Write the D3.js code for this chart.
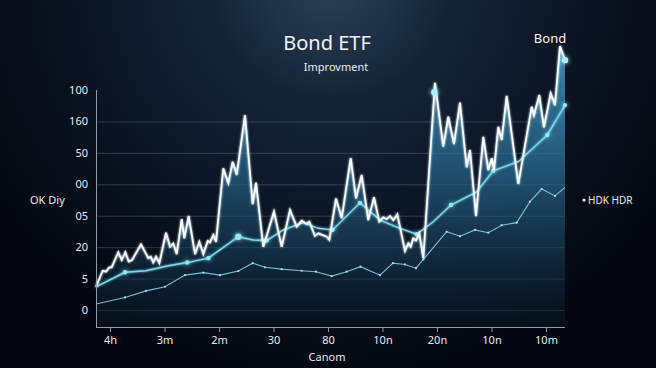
<!DOCTYPE html>
<html><head><meta charset="utf-8">
<script src="https://cdn.jsdelivr.net/npm/d3@7"></script>
<style>html,body{margin:0;padding:0;background:#060a14;overflow:hidden}svg{display:block}</style>
</head><body>
<script>
// ---- data ----
const xTickLabels = ["4h","3m","2m","30","80","10n","20n","10n","10m"];
const yTickLabels = ["0","5","20","05","00","50","160","100"];
const bondX = [-0.257,-0.134,-0.073,-0.013,0.031,0.152,0.215,0.281,0.343,0.404,0.569,0.703,0.747,0.794,0.844,0.905,1.028,1.101,1.161,1.224,1.316,1.363,1.444,1.560,1.639,1.712,1.793,1.835,1.895,1.945,2.079,2.171,2.251,2.325,2.477,2.618,2.679,2.813,3.009,3.150,3.303,3.426,3.517,3.609,3.657,3.761,3.822,3.976,4.024,4.147,4.251,4.417,4.514,4.618,4.739,4.844,4.941,5.015,5.077,5.138,5.198,5.272,5.413,5.473,5.517,5.565,5.615,5.675,5.749,5.952,5.963,6.116,6.207,6.312,6.422,6.545,6.606,6.716,6.850,6.941,7.004,7.046,7.125,7.187,7.279,7.492,7.738,7.780,7.877,7.963,8.086,8.165,8.257,8.349];
const bondY = [7.4,12.5,12.2,13.6,13.6,18.4,15.9,18.4,15.4,15.9,20.9,16.5,17.0,15.1,17.0,14.9,24.6,20.1,21.2,17.8,28.9,22.8,29.9,17.8,21.7,17.8,22.0,21.5,23.9,21.7,45.1,40.3,47.2,43.0,62.0,33.7,40.5,20.1,31.3,20.1,31.8,26.5,28.4,27.4,28.1,23.6,24.4,23.3,22.3,35.5,29.2,48.3,35.5,43.0,28.6,35.9,28.1,29.5,28.9,29.9,28.6,30.5,18.8,21.2,20.1,22.8,22.1,24.4,16.5,69.3,72.3,52.0,61.5,52.8,66.0,45.4,50.9,29.9,55.1,44.5,48.3,44.5,58.3,54.1,68.1,40.1,64.7,62.0,68.4,58.1,69.0,65.2,84.0,79.5];
const bondMarkerIdx = [69, 93];
const trendX = [-0.257,0.275,0.661,1.070,1.418,1.804,2.354,2.629,2.875,3.180,3.547,3.822,4.086,4.587,4.954,5.321,5.628,5.932,6.257,6.728,7.033,7.492,8.024,8.349];
const trendY = [7.4,12.0,12.5,14.1,15.1,16.5,23.3,22.3,22.1,25.5,27.8,26.0,25.5,34.1,28.6,26.0,24.1,28.1,33.4,37.6,44.3,47.2,55.7,65.2];
const trendMarkerIdx = [1,4,5,6,8,12,13,16,18,20,22,23];
const lowX = [-0.257,0.275,0.661,1.009,1.376,1.712,2.018,2.354,2.618,2.844,3.150,3.517,3.780,4.068,4.343,4.596,4.954,5.193,5.413,5.615,5.749,6.178,6.422,6.697,6.941,7.187,7.462,7.706,7.921,8.165,8.349];
const lowY = [1.9,4.0,6.1,7.4,11.1,11.9,11.1,12.4,14.9,13.6,13.0,12.5,12.2,10.8,12.2,13.8,11.1,14.9,14.5,13.3,16.1,24.9,23.5,25.5,24.6,27.0,27.8,34.5,38.5,36.3,39.0];
const bond = bondX.map((x,i)=>({x, y:bondY[i]}));
const trend = trendX.map((x,i)=>({x, y:trendY[i]}));
const low = lowX.map((x,i)=>({x, y:lowY[i]}));

// ---- layout ----
const W = 656, H = 368;
const m = {left:96, right:91, top:90, bottom:41};
const x = d3.scaleLinear().domain([-0.257, 8.349]).range([m.left, W - m.right]);
const y = d3.scaleLinear().domain([-5.4, 70]).range([H - m.bottom, m.top]);
const FONT = "'Noto Sans','Open Sans',sans-serif";

const svg = d3.select("body").append("svg").attr("width", W).attr("height", H);
const defs = svg.append("defs");

const bg = defs.append("radialGradient").attr("id","bg").attr("gradientUnits","userSpaceOnUse")
  .attr("cx",330).attr("cy",-20).attr("r",400);
bg.append("stop").attr("offset","0").attr("stop-color","#2c4258");
bg.append("stop").attr("offset","0.3").attr("stop-color","#142438");
bg.append("stop").attr("offset","0.65").attr("stop-color","#0a1322");
bg.append("stop").attr("offset","1").attr("stop-color","#04070f");

const fillG = defs.append("linearGradient").attr("id","fillG").attr("gradientUnits","userSpaceOnUse")
  .attr("x1",0).attr("y1",50).attr("x2",0).attr("y2",H - m.bottom);
fillG.append("stop").attr("offset","0").attr("stop-color","#4aa6d4").attr("stop-opacity",0.8);
fillG.append("stop").attr("offset","0.45").attr("stop-color","#286a90").attr("stop-opacity",0.65);
fillG.append("stop").attr("offset","1").attr("stop-color","#0a1828").attr("stop-opacity",0.35);

const fillT = defs.append("linearGradient").attr("id","fillT").attr("gradientUnits","userSpaceOnUse")
  .attr("x1",0).attr("y1",100).attr("x2",0).attr("y2",H - m.bottom);
fillT.append("stop").attr("offset","0").attr("stop-color","#3c8fbc").attr("stop-opacity",0.3);
fillT.append("stop").attr("offset","1").attr("stop-color","#0c1c2e").attr("stop-opacity",0.05);

const glow = defs.append("filter").attr("id","glow").attr("x","-200%").attr("y","-200%").attr("width","500%").attr("height","500%");
glow.append("feGaussianBlur").attr("stdDeviation",2.5).attr("result","b");
const mg = glow.append("feMerge");
mg.append("feMergeNode").attr("in","b");
mg.append("feMergeNode").attr("in","SourceGraphic");

const soft = defs.append("filter").attr("id","soft").attr("x","-10%").attr("y","-10%").attr("width","120%").attr("height","120%");
soft.append("feGaussianBlur").attr("stdDeviation",1.2).attr("result","b");
const ms = soft.append("feMerge");
ms.append("feMergeNode").attr("in","b");
ms.append("feMergeNode").attr("in","SourceGraphic");

svg.append("rect").attr("width",W).attr("height",H).attr("fill","url(#bg)");

// gridlines
const gridVals = d3.range(0, 70, 10);
svg.append("g").selectAll("line").data(gridVals).join("line")
  .attr("x1", x.range()[0]).attr("x2", x.range()[1])
  .attr("y1", d=>y(d)+0.5).attr("y2", d=>y(d)+0.5)
  .attr("stroke","#8ea3b8").attr("stroke-opacity",0.3).attr("stroke-width",1);

// areas
const area = d3.area().x(d=>x(d.x)).y0(y(-5.4)).y1(d=>y(d.y));
svg.append("path").datum(bond).attr("d", area).attr("fill","url(#fillG)");
svg.append("path").datum(trend).attr("d", area).attr("fill","url(#fillT)");

const line = d3.line().x(d=>x(d.x)).y(d=>y(d.y));
// low line
svg.append("path").datum(low).attr("d", line).attr("fill","none")
  .attr("stroke","#86cde3").attr("stroke-width",1.1).attr("opacity",0.9);
svg.append("g").selectAll("circle").data(low.slice(1,-1)).join("circle")
  .attr("cx",d=>x(d.x)).attr("cy",d=>y(d.y)).attr("r",1.1).attr("fill","#a6dff0");
// trend line
svg.append("path").datum(trend).attr("d", line).attr("fill","none")
  .attr("stroke","#78dcef").attr("stroke-width",1.4).attr("filter","url(#soft)");
svg.append("g").selectAll("circle").data(trendMarkerIdx.map(i=>trend[i])).join("circle")
  .attr("cx",d=>x(d.x)).attr("cy",d=>y(d.y)).attr("r",(d,i)=> (i===3?3.2:2.2))
  .attr("fill","#8eeaf8").attr("filter","url(#glow)");
// bond line
svg.append("path").datum(bond).attr("d", line).attr("fill","none")
  .attr("stroke","#f4fbff").attr("stroke-width",1.8).attr("stroke-linejoin","miter").attr("filter","url(#soft)");
svg.append("g").selectAll("circle").data(bondMarkerIdx.map(i=>bond[i])).join("circle")
  .attr("cx",d=>x(d.x)).attr("cy",d=>y(d.y)).attr("r",3.2)
  .attr("fill","#a8f2ff").attr("filter","url(#glow)");

// axes
const yAxis = d3.axisLeft(y).tickValues(d3.range(0, 71, 10)).tickSize(0).tickPadding(8)
  .tickFormat((d,i)=>yTickLabels[i]);
const gy = svg.append("g").attr("transform",`translate(${m.left},0)`).call(yAxis);
gy.select(".domain").remove();
gy.append("line").attr("x1",0.5).attr("x2",0.5).attr("y1",y(70)).attr("y2",y(-5.4))
  .attr("stroke","#8e9cac").attr("stroke-width",1);
gy.selectAll("text").attr("fill","#e6ecf2").style("font-family",FONT).style("font-size","11px");

const xAxis = d3.axisBottom(x).tickValues(d3.range(0, 9)).tickSize(5).tickPadding(4)
  .tickFormat((d,i)=>xTickLabels[i]);
const gx = svg.append("g").attr("transform",`translate(0,${y(-5.4)})`).call(xAxis);
gx.select(".domain").attr("stroke","#8e9cac").attr("d",`M${x.range()[0]},0.5H${x.range()[1]}`);
gx.selectAll(".tick line").attr("stroke","#8e9cac");
gx.selectAll("text").attr("fill","#e6ecf2").style("font-family",FONT).style("font-size","11px");

// texts
svg.append("text").attr("x",327).attr("y",50).attr("text-anchor","middle")
  .attr("fill","#f2f6fa").style("font-family",FONT).style("font-size","20px").text("Bond ETF");
svg.append("text").attr("x",336).attr("y",71).attr("text-anchor","middle")
  .attr("fill","#e8eef4").style("font-family",FONT).style("font-size","11px").text("Improvment");
svg.append("text").attr("x",550).attr("y",43).attr("text-anchor","middle")
  .attr("fill","#f2f6fa").style("font-family",FONT).style("font-size","13px").text("Bond");
svg.append("text").attr("x",30).attr("y",204)
  .attr("fill","#e6ecf2").style("font-family",FONT).style("font-size","11px").text("OK Diy");
svg.append("text").attr("x",327).attr("y",361).attr("text-anchor","middle")
  .attr("fill","#e6ecf2").style("font-family",FONT).style("font-size","11px").text("Canom");
svg.append("circle").attr("cx",584).attr("cy",200).attr("r",1.6).attr("fill","#e6ecf2");
svg.append("text").attr("x",588).attr("y",204)
  .attr("fill","#e6ecf2").style("font-family",FONT).style("font-size","10px").text("HDK HDR");
</script>
</body></html>
